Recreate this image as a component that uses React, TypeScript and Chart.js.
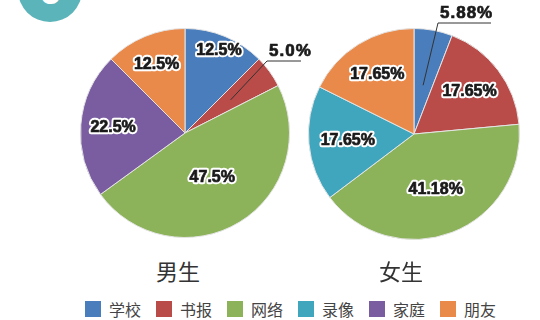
import React, { useEffect, useRef } from "react";
import { Chart, registerables } from "chart.js";

Chart.register(...registerables);

const categories = ["学校", "书报", "网络", "录像", "家庭", "朋友"];
const maleValues = [12.5, 5.0, 47.5, 0, 22.5, 12.5];
const femaleValues = [5.88, 17.65, 41.18, 17.65, 0, 17.65];
const maleLabels = ["12.5%", "5.0%", "47.5%", "", "22.5%", "12.5%"];
const femaleLabels = ["5.88%", "17.65%", "41.18%", "17.65%", "", "17.65%"];
const groupNames = ["男生", "女生"];
const colors = ["#4a7dbb", "#b94b49", "#8db35a", "#3fa6bd", "#7a5da0", "#ea8a4a"];

type LabelOpts = {
  texts: string[];
  fracs: number[];
  callout: { index: number; frac: number; dx: number; dy: number; len: number };
};

const labelPlugin = {
  id: "sliceLabels",
  afterDatasetsDraw(chart: any, _args: any, opts: LabelOpts) {
    const ctx = chart.ctx;
    const meta = chart.getDatasetMeta(0);
    const data = chart.data.datasets[0].data as number[];
    ctx.save();
    meta.data.forEach((arc: any, i: number) => {
      if (!data[i]) return;
      const { x, y, startAngle, endAngle, outerRadius } = arc.getProps(
        ["x", "y", "startAngle", "endAngle", "outerRadius"],
        true
      );
      const mid = (startAngle + endAngle) / 2;
      const text = opts.texts[i];
      if (opts.callout.index === i) {
        const c = opts.callout;
        const px = x + Math.cos(mid) * outerRadius * c.frac;
        const py = y + Math.sin(mid) * outerRadius * c.frac;
        const ux = x + c.dx;
        const uy = y + c.dy;
        ctx.strokeStyle = "#333";
        ctx.lineWidth = 1;
        ctx.beginPath();
        ctx.moveTo(px, py);
        ctx.lineTo(ux, uy);
        ctx.lineTo(ux + c.len, uy);
        ctx.stroke();
        ctx.font = "bold 17px 'Liberation Sans', Arial, sans-serif";
        (ctx as any).letterSpacing = "1px";
        ctx.textAlign = "left";
        ctx.textBaseline = "alphabetic";
        ctx.fillStyle = "#1a1a1a";
        ctx.fillText(text, ux + 2, uy - 5);
        ctx.strokeStyle = "#1a1a1a";
        ctx.lineWidth = 0.7;
        ctx.strokeText(text, ux + 2, uy - 5);
        (ctx as any).letterSpacing = "0px";
        return;
      }
      const r = outerRadius * opts.fracs[i];
      const lx = x + Math.cos(mid) * r;
      const ly = y + Math.sin(mid) * r;
      ctx.font = "bold 16px 'Liberation Sans', Arial, sans-serif";
      ctx.textAlign = "center";
      ctx.textBaseline = "middle";
      ctx.lineJoin = "round";
      ctx.strokeStyle = "#ffffff";
      ctx.lineWidth = 4.5;
      ctx.strokeText(text, lx, ly);
      ctx.fillStyle = "#1a1a1a";
      ctx.fillText(text, lx, ly);
      ctx.strokeStyle = "#1a1a1a";
      ctx.lineWidth = 0.7;
      ctx.strokeText(text, lx, ly);
    });
    ctx.restore();
  },
};

function PieCanvas(props: {
  values: number[];
  labelOpts: LabelOpts;
  width: number;
  height: number;
  padding: { left: number; right: number; top: number; bottom: number };
  style: React.CSSProperties;
}) {
  const ref = useRef<HTMLCanvasElement | null>(null);
  useEffect(() => {
    if (!ref.current) return;
    const chart = new Chart(ref.current, {
      type: "pie",
      data: {
        labels: categories,
        datasets: [
          {
            data: props.values,
            backgroundColor: colors,
            borderColor: "#e4e4e4",
            borderWidth: 1,
          },
        ],
      },
      options: {
        responsive: false,
        animation: false,
        layout: { padding: props.padding },
        plugins: {
          legend: { display: false },
          tooltip: { enabled: false },
          sliceLabels: props.labelOpts,
        } as any,
      },
      plugins: [labelPlugin],
    });
    return () => chart.destroy();
  }, []);
  return <canvas ref={ref} width={props.width} height={props.height} style={props.style} />;
}

export default function App() {
  const titleStyle: React.CSSProperties = {
    position: "absolute",
    top: 254,
    fontFamily: "'Noto Sans CJK SC', sans-serif",
    fontSize: 22,
    color: "#333",
    lineHeight: "32px",
    width: 80,
    textAlign: "center",
  };
  return (
    <div
      style={{
        position: "fixed",
        left: 0,
        top: 0,
        width: 540,
        height: 320,
        background: "#ffffff",
        overflow: "hidden",
      }}
    >
      <div
        style={{
          position: "absolute",
          left: 18,
          top: -42,
          width: 64,
          height: 64,
          borderRadius: "50%",
          background: "#5bb4b9",
          color: "#fff",
          fontFamily: "'Liberation Sans', sans-serif",
          fontWeight: "bold",
          fontSize: 40,
          lineHeight: "64px",
          textAlign: "center",
        }}
      >
        6
      </div>
      <PieCanvas
        values={maleValues}
        labelOpts={{
          texts: maleLabels,
          fracs: [0.85, 0.6, 0.5, 0.6, 0.69, 0.71],
          callout: { index: 1, frac: 0.54, dx: 82, dy: -72, len: 34 },
        }}
        width={320}
        height={250}
        padding={{ left: 80, right: 30, top: 28, bottom: 12 }}
        style={{ position: "absolute", left: 0, top: 0 }}
      />
      <PieCanvas
        values={femaleValues}
        labelOpts={{
          texts: femaleLabels,
          fracs: [0.6, 0.66, 0.57, 0.63, 0.6, 0.66],
          callout: { index: 0, frac: 0.47, dx: 24, dy: -111, len: 53 },
        }}
        width={240}
        height={250}
        padding={{ left: 8, right: 20, top: 28, bottom: 10 }}
        style={{ position: "absolute", left: 300, top: 0 }}
      />
      <div style={{ ...titleStyle, left: 138 }}>{groupNames[0]}</div>
      <div style={{ ...titleStyle, left: 361 }}>{groupNames[1]}</div>
      <div
        style={{
          position: "absolute",
          left: 85,
          top: 300,
          display: "flex",
          alignItems: "center",
          fontFamily: "'Noto Sans CJK SC', sans-serif",
          fontSize: 16,
          color: "#444",
          whiteSpace: "nowrap",
        }}
      >
        {categories.map((c, i) => (
          <div key={c} style={{ display: "flex", alignItems: "center", width: 71 }}>
            <span
              style={{
                display: "inline-block",
                width: 16,
                height: 16,
                background: colors[i],
                marginRight: 8,
              }}
            />
            <span style={{ lineHeight: "18px" }}>{c}</span>
          </div>
        ))}
      </div>
    </div>
  );
}
